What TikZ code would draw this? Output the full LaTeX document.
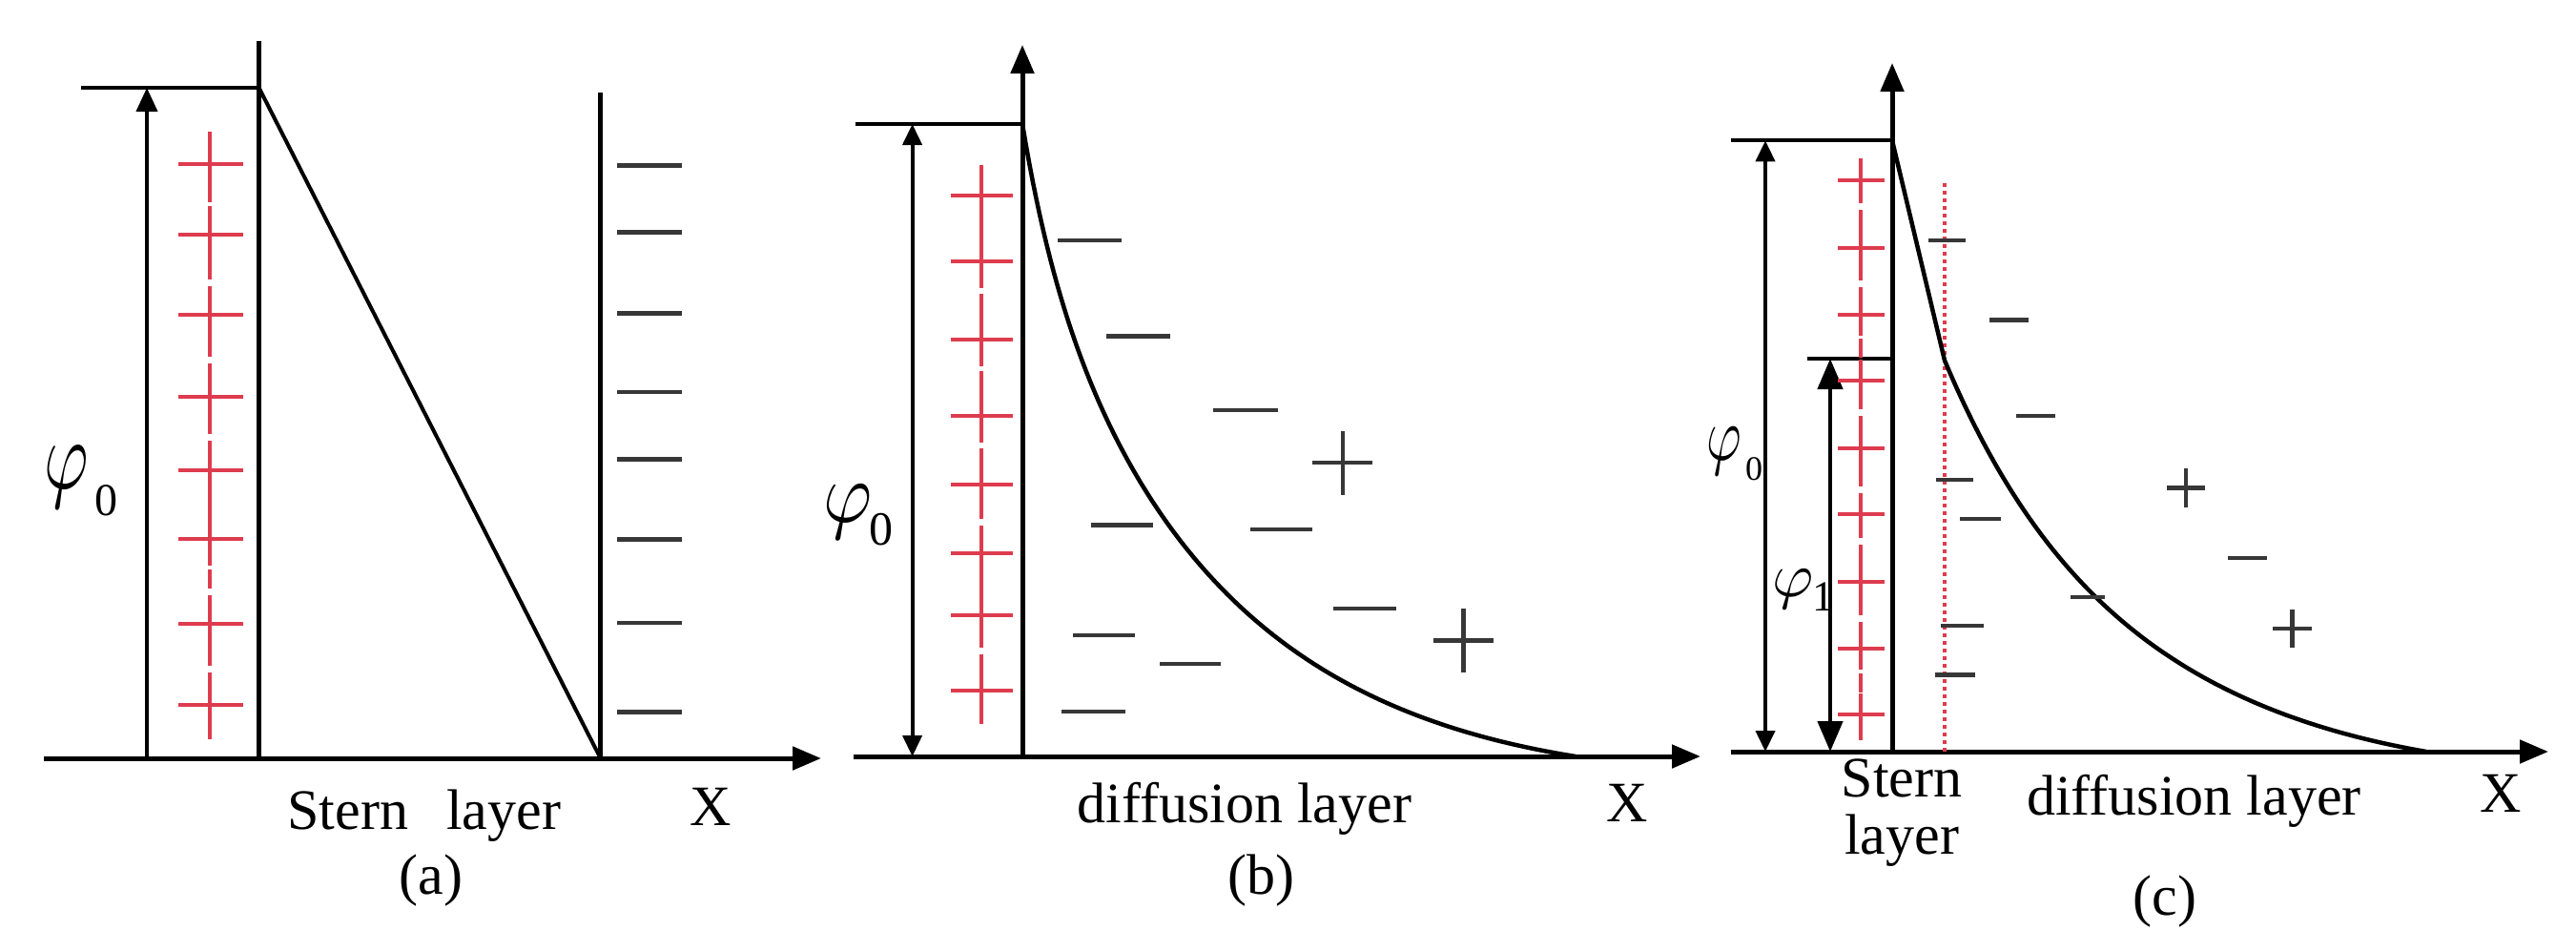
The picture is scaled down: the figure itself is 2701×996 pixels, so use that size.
\documentclass[tikz,border=0pt]{standalone}
\usepackage{fontspec}
\setmainfont{Liberation Serif}
\usetikzlibrary{arrows.meta}
\definecolor{pr}{RGB}{222,60,78}
\definecolor{ng}{RGB}{55,55,55}
\tikzset{
 axis/.style={line width=5pt, -{Triangle[length=30pt,width=24pt]}},
 axisline/.style={line width=5pt},
 ln/.style={line width=4pt},
 uparrow/.style={line width=4pt, -{Triangle[length=25pt,width=22pt]}},
 dim/.style={line width=4pt, {Triangle[length=22pt,width=20pt]}-{Triangle[length=22pt,width=20pt]}},
 dimbig/.style={line width=4.5pt, {Triangle[length=32pt,width=26pt]}-{Triangle[length=32pt,width=26pt]}},
 neg/.style={line width=4.5pt, draw=ng},
 posbar/.style={line width=4pt, draw=pr},
 pdash/.style={line width=4pt, draw=pr, dash pattern=on 20pt off 7pt},
 pdot/.style={line width=4pt, draw=pr, dash pattern=on 4pt off 4pt},
 curve/.style={line width=4.5pt, line join=round},
 lbl/.style={inner sep=0pt, anchor=base, font=\fontsize{60}{62}\selectfont},
 sub/.style={inner sep=0pt, anchor=base},
}
\newcommand{\mkplus}[5][ng]{%
  \draw[line width=4.5pt, draw=#1] (#2-#4,#3) -- (#2+#4,#3);
  \draw[line width=4.5pt, draw=#1] (#2,#3-#5) -- (#2,#3+#5);}
\begin{document}
\begin{tikzpicture}[x=1pt,y=-1pt]
\useasboundingbox (0,0) rectangle (2701,996);
% ================= panel (a) =================
\coordinate (a-o) at (46,795);
\coordinate (a-x) at (861,795);
\coordinate (a-L) at (154,795);
\coordinate (a-Lt) at (154,92);
\coordinate (a-tl) at (85,92);
\coordinate (a-s0) at (271.5,795);
\coordinate (a-s1) at (271.5,43);
\coordinate (a-st) at (271.5,92);
\coordinate (a-r0) at (629.7,795);
\coordinate (a-r1) at (629.7,96.5);
\draw[axis] (a-o) -- (a-x);
\draw[uparrow] (a-L) -- (a-Lt);
\draw[ln] (a-tl) -- (a-st);
\draw[axisline] (a-s0) -- (a-s1);
\draw[ln] (a-st) -- (a-r0);
\draw[axisline] (a-r0) -- (a-r1);
\foreach \y in {173.4,243.3,328.4,411,481.5,565.3,653,746.4}
  \draw[neg] (647,\y) -- (714.6,\y);
\draw[pdash] (220,138) -- (220,775);
\foreach \y in {171.5,245.8,330.3,416,493,565.3,654.3,738.7}{
  \draw[posbar] (186.6,\y) -- (255.4,\y);
  \draw[posbar] (220,\y-30) -- (220,\y+28);}
\node[sub] (a-phi) at (70,512) {\scalebox{7.1}[10.4]{$\varphi$}};
\node[sub] (a-phis) at (111.5,540) {\fontsize{48}{48}\selectfont 0};
\node[lbl] (a-stern) at (444.8,869) {Stern\hspace{40pt}layer};
\node[lbl] (a-cap) at (452,937) {(a)};
\node[lbl] (a-X) at (745,865) {X};
% ================= panel (b) =================
\coordinate (b-o) at (895,793);
\coordinate (b-x) at (1783,793);
\coordinate (b-v0) at (1072,793);
\coordinate (b-v1) at (1072,47);
\coordinate (b-tl) at (897,130);
\coordinate (b-tr) at (1072,130);
\coordinate (b-d0) at (956.6,130);
\coordinate (b-d1) at (956.6,793);
\draw[axis] (b-o) -- (b-x);
\draw[axis] (b-v0) -- (b-v1);
\draw[ln] (b-tl) -- (b-tr);
\draw[dim] (b-d0) -- (b-d1);
\draw[pdash] (1029.3,172.8) -- (1029.3,759);
\foreach \y in {205,274.4,355.7,435.7,508,580,644.7,724}{
  \draw[posbar] (996.6,\y) -- (1062,\y);
  \draw[posbar] (1029.3,\y-28) -- (1029.3,\y+28);}
\draw[curve] plot[domain=0:580, samples=160, variable=\t]
  ({1072+\t}, {793-663*(0.15*exp(-0.03*\t)+0.85*exp(-0.0055*\t))*(1-(\t/580)^4)});
\draw[neg] (1109,252) -- (1175.5,252);
\draw[neg] (1160,352.4) -- (1227.3,352.4);
\draw[neg] (1272,430) -- (1339.6,430);
\draw[neg] (1143.7,550.6) -- (1209,550.6);
\draw[neg] (1311,555) -- (1376.3,555);
\draw[neg] (1398,638) -- (1464,638);
\draw[neg] (1124.5,665.8) -- (1189.8,665.8);
\draw[neg] (1216,696) -- (1280.4,696);
\draw[neg] (1113,746) -- (1179.6,746);
\mkplus{1407.8}{485}{31.6}{33.5}
\mkplus{1534.7}{671.6}{31.6}{33.5}
\node[sub] (b-phi) at (889,547) {\scalebox{7.8}[9.1]{$\varphi$}};
\node[sub] (b-phis) at (924,571) {\fontsize{50}{50}\selectfont 0};
\node[lbl] (b-diff) at (1305,862.6) {diffusion layer};
\node[lbl] (b-cap) at (1322.7,937) {(b)};
\node[lbl] (b-X) at (1706,861) {X};
% ================= panel (c) =================
\coordinate (c-o) at (1815,788);
\coordinate (c-x) at (2672,788);
\coordinate (c-v0) at (1984,788);
\coordinate (c-v1) at (1984,66);
\coordinate (c-tl) at (1815,147.4);
\coordinate (c-tr) at (1984,147.4);
\coordinate (c-ml) at (1895,376);
\coordinate (c-mr) at (1984,376);
\coordinate (c-d0) at (1851,147.4);
\coordinate (c-d1) at (1851,788);
\coordinate (c-e0) at (1919,376);
\coordinate (c-e1) at (1919,788);
\coordinate (c-k) at (2039,378);
\coordinate (c-p0) at (2039,192);
\coordinate (c-p1) at (2039,788);
\draw[axis] (c-o) -- (c-x);
\draw[axis] (c-v0) -- (c-v1);
\draw[ln] (c-tl) -- (c-tr);
\draw[ln] (c-ml) -- (c-mr);
\draw[dim] (c-d0) -- (c-d1);
\draw[dimbig] (c-e0) -- (c-e1);
\draw[pdash] (1951,166) -- (1951,776);
\foreach \y in {189,260,330,398.6,469.8,539.4,609.8,679.7,749.3}{
  \draw[posbar] (1927,\y) -- (1975.5,\y);
  \draw[posbar] (1951,\y-22) -- (1951,\y+22);}
\draw[pdot] (c-p0) -- (c-p1);
\draw[curve] (c-tr) -- (c-k)
  -- plot[domain=0:505, samples=140, variable=\t]
  ({2039+\t}, {788-410*exp(-0.0058*\t)*(1-(\t/505)^4)});
\draw[neg] (2022,252) -- (2060.8,252);
\draw[neg] (2086,335.6) -- (2127.2,335.6);
\draw[neg] (2114,436) -- (2154.8,436);
\draw[neg] (2030,502.8) -- (2069,502.8);
\draw[neg] (2054.5,543.8) -- (2098,543.8);
\draw[neg] (2335.6,585) -- (2376.8,585);
\draw[neg] (2170.8,626) -- (2207.2,626);
\draw[neg] (2035,656) -- (2080,656);
\draw[neg] (2029.3,707.5) -- (2070.5,707.5);
\mkplus{2292}{511.6}{20.4}{20.3}
\mkplus{2403.5}{659}{20.4}{20.3}
\node[sub] (c-phi0) at (1808,482.5) {\scalebox{5.6}[8]{$\varphi$}};
\node[sub] (c-phi0s) at (1839,503) {\fontsize{36}{36}\selectfont 0};
\node[sub] (c-phi1) at (1880,625) {\scalebox{6.6}[6.6]{$\varphi$}};
\node[sub] (c-phi1s) at (1912,640) {\fontsize{45}{45}\selectfont 1};
\node[lbl] (c-stern) at (1994,835) {Stern};
\node[lbl] (c-layer) at (1994,895.6) {layer};
\node[lbl] (c-diff) at (2300.4,854.3) {diffusion layer};
\node[lbl] (c-X) at (2622,851) {X};
\node[lbl] (c-cap) at (2270,959) {(c)};
\end{tikzpicture}
\end{document}
